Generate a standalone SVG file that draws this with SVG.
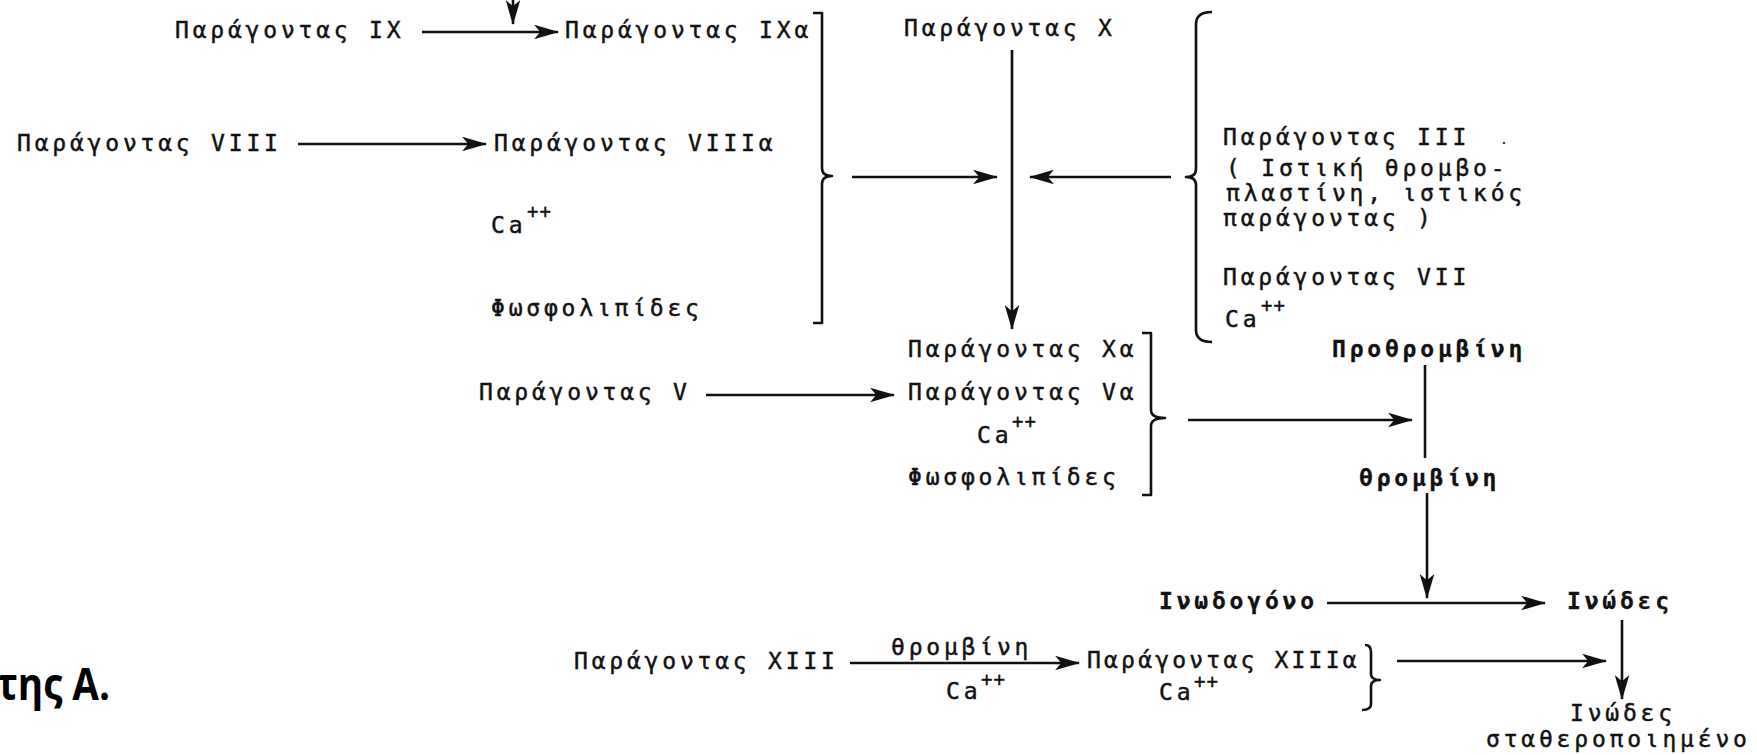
<svg xmlns="http://www.w3.org/2000/svg" width="1757" height="755" viewBox="0 0 1757 755">
<style>
.t{font-family:"DejaVu Sans Mono","Liberation Mono",monospace;font-size:23px;letter-spacing:3.8px;fill:#111;stroke:#111;stroke-width:0.45px}
.b{font-weight:bold;stroke-width:0.3px}
.s{font-family:"DejaVu Sans Mono","Liberation Mono",monospace;font-size:19px;letter-spacing:1px;fill:#111;stroke:#111;stroke-width:0.4px}
.c{stroke:#111;stroke-width:2.6;fill:none}
.a{marker-end:url(#ah)}
.br{stroke:#111;stroke-width:2.6;fill:none;stroke-linejoin:round}
</style>
<defs>
<marker id="ah" markerUnits="userSpaceOnUse" viewBox="0 0 24 14" refX="23" refY="7" markerWidth="25" markerHeight="15" orient="auto">
<path d="M0,0 L24,7 L0,14 L6,7 Z" fill="#111"/>
</marker>
</defs>
<rect width="1757" height="755" fill="#fff"/>
<g id="connectors">
<line class="c a" x1="513" y1="0" x2="513" y2="24"/>
<line class="c a" x1="422" y1="32" x2="558" y2="32"/>
<line class="c a" x1="298" y1="144" x2="486" y2="144"/>
<line class="c a" x1="852" y1="177" x2="997" y2="177"/>
<line class="c a" x1="1171" y1="177" x2="1030" y2="177"/>
<line class="c a" x1="1012" y1="50" x2="1012" y2="329"/>
<line class="c a" x1="706" y1="395" x2="894" y2="395"/>
<line class="c a" x1="1188" y1="420" x2="1412" y2="420"/>
<line class="c" x1="1425" y1="365" x2="1425" y2="458"/>
<line class="c a" x1="1427" y1="493" x2="1427" y2="598"/>
<line class="c a" x1="1327" y1="603" x2="1545" y2="603"/>
<line class="c a" x1="1622" y1="620" x2="1622" y2="699"/>
<line class="c a" x1="850" y1="663" x2="1079" y2="663"/>
<line class="c a" x1="1397" y1="661" x2="1606" y2="661"/>
</g>
<g id="braces">
<path class="br" d="M813,13 L822,13 L822,168 Q822,176 832,176 Q822,176 822,184 L822,323 L813,323"/>
<path class="br" d="M1212,12 Q1196,12 1196,24 L1196,169 Q1196,177 1186,177 Q1196,177 1196,185 L1196,330 Q1196,342 1212,342"/>
<path class="br" d="M1142,333 L1151,333 L1151,410 Q1151,418 1165,418 Q1151,418 1151,426 L1151,495 L1142,495"/>
<path class="br" d="M1365,645 Q1371,645 1371,652 L1371,674 Q1371,680 1380,680 Q1371,680 1371,686 L1371,704 Q1371,710 1362,710"/>
</g>
<g id="n-ix"><text class="t" x="175" y="38">Παράγοντας IX</text></g>
<g id="n-ixa"><text class="t" x="565" y="38">Παράγοντας IXα</text></g>
<g id="n-x"><text class="t" x="904" y="36">Παράγοντας X</text></g>
<g id="n-viii"><text class="t" x="17" y="151">Παράγοντας VIII</text></g>
<g id="n-viiia"><text class="t" x="494" y="151">Παράγοντας VIIIα</text></g>
<g id="n-ca1"><text class="t" x="491" y="233">Ca</text><text class="s" x="527" y="218">++</text></g>
<g id="n-phos1"><text class="t" x="491" y="316">Φωσφολιπίδες</text></g>
<g id="n-iii">
<text class="t" x="1223" y="145">Παράγοντας III</text>
<circle cx="1504" cy="143" r="1.3" fill="#444"/>
<text class="t" x="1226" y="176">( Ιστική θρομβο-</text>
<text class="t" x="1226" y="201">πλαστίνη, ιστικός</text>
<text class="t" x="1223" y="226">παράγοντας )</text>
</g>
<g id="n-vii"><text class="t" x="1223" y="285">Παράγοντας VII</text></g>
<g id="n-ca2"><text class="t" x="1225" y="327">Ca</text><text class="s" x="1261" y="312">++</text></g>
<g id="n-xa"><text class="t" x="908" y="357">Παράγοντας Xα</text></g>
<g id="n-prothrombin"><text class="t b" x="1332" y="357">Προθρομβίνη</text></g>
<g id="n-v"><text class="t" x="479" y="400">Παράγοντας V</text></g>
<g id="n-va"><text class="t" x="908" y="400">Παράγοντας Vα</text></g>
<g id="n-ca3"><text class="t" x="977" y="443">Ca</text><text class="s" x="1012" y="428">++</text></g>
<g id="n-phos2"><text class="t" x="908" y="485">Φωσφολιπίδες</text></g>
<g id="n-thrombin"><text class="t b" x="1359" y="486">θρομβίνη</text></g>
<g id="n-fibrinogen"><text class="t b" x="1159" y="609">Ινωδογόνο</text></g>
<g id="n-fibrin"><text class="t b" x="1567" y="609">Ινώδες</text></g>
<g id="n-xiii"><text class="t" x="574" y="669">Παράγοντας XIII</text></g>
<g id="l-xiii">
<text class="t" x="891" y="655">θρομβίνη</text>
<text class="t" x="946" y="699">Ca</text><text class="s" x="981" y="686">++</text>
</g>
<g id="n-xiiia">
<text class="t" x="1087" y="668" style="letter-spacing:3.2px">Παράγοντας XIIIα</text>
<text class="t" x="1159" y="700">Ca</text><text class="s" x="1194" y="688">++</text>
</g>
<g id="n-stable">
<text class="t" x="1570" y="721">Ινώδες</text>
<text class="t" x="1486" y="747">σταθεροποιημένο</text>
</g>
<g id="caption"><text x="-3" y="700" font-family="'Open Sans','Liberation Sans',sans-serif" font-weight="bold" font-size="44" textLength="113" lengthAdjust="spacingAndGlyphs" fill="#000">της Α.</text></g>
</svg>
